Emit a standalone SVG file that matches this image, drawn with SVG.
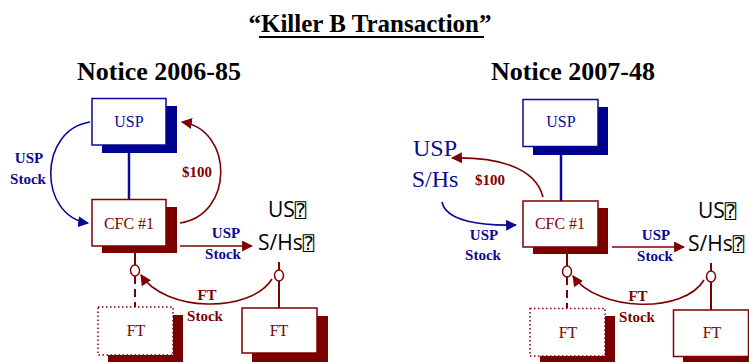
<svg xmlns="http://www.w3.org/2000/svg" width="749" height="362" viewBox="0 0 749 362">
<style>
.ttl{font-family:"Liberation Serif","Times New Roman",serif;font-weight:bold;fill:#000;}
.box{fill:#fff;stroke-width:1.5;}
.bb{stroke:#0a0a96;}
.rb{stroke:#7f0000;}
.dot{stroke-dasharray:1.5,2.5;}
.bsh{fill:#00008f;}
.rsh{fill:#7a0000;}
.lbl{font-family:"Liberation Serif","Times New Roman",serif;font-size:16px;text-anchor:middle;}
.bl{fill:#0a0a96;}
.rl{fill:#7f0000;}
.bold{font-family:"Liberation Serif","Times New Roman",serif;font-weight:bold;font-size:15px;text-anchor:middle;}
.sans{font-family:"Open Sans","Noto Sans",sans-serif;font-size:21px;fill:#000;}
.tofu{font-family:"DejaVu Sans Mono","DejaVu Sans",monospace;font-size:19px;fill:#000;}
.big{font-family:"Liberation Serif","Times New Roman",serif;font-size:24px;fill:#0a0a96;text-anchor:middle;}
.rline{fill:none;stroke:#7f0000;stroke-width:1.6;}
.bline{fill:none;stroke:#0a0a96;stroke-width:1.6;}
.circ{fill:#fff;stroke:#7f0000;stroke-width:1.5;}
</style>
<defs>
<marker id="ar2" viewBox="0 0 10 10" refX="9" refY="5" markerWidth="11" markerHeight="11" orient="auto" markerUnits="userSpaceOnUse"><path d="M0,0 L10,5 L0,10 z" fill="#7f0000"/></marker>
<marker id="ab2" viewBox="0 0 10 10" refX="9" refY="5" markerWidth="11" markerHeight="11" orient="auto" markerUnits="userSpaceOnUse"><path d="M0,0 L10,5 L0,10 z" fill="#0a0a96"/></marker>
</defs>

<g id="title">
<text class="ttl" x="370" y="32" font-size="25" text-anchor="middle">“Killer B Transaction”</text>
<line x1="259" y1="37" x2="484" y2="37" stroke="#000" stroke-width="2"/>
</g>
<g id="heading-left"><text class="ttl" x="159" y="80" font-size="26" text-anchor="middle">Notice 2006-85</text></g>
<g id="heading-right"><text class="ttl" x="573" y="80" font-size="26" text-anchor="middle">Notice 2007-48</text></g>

<g id="connectors">
<!-- left diagram -->
<line x1="129" y1="153" x2="129" y2="200" stroke="#0a0a96" stroke-width="2.5"/>
<path class="bline" d="M90,122 C38,130 38,216 88,223" marker-end="url(#ab2)"/>
<path class="rline" d="M180,223 C234,215 234,130 182,122" marker-end="url(#ar2)"/>
<line class="rline" x1="180" y1="246" x2="252" y2="246" marker-end="url(#ar2)"/>
<line x1="135" y1="253" x2="135" y2="265" stroke="#7f0000" stroke-width="2"/>
<line x1="135" y1="276" x2="135" y2="307" stroke="#7f0000" stroke-width="2" stroke-dasharray="8,5"/>
<line x1="279" y1="262" x2="279" y2="308" stroke="#7f0000" stroke-width="2"/>
<path class="rline" d="M272,279 C250,314 165,312 141,275" marker-end="url(#ar2)"/>
<ellipse class="circ" cx="135" cy="270.5" rx="4.5" ry="5.5"/>
<ellipse class="circ" cx="279" cy="275.5" rx="4.5" ry="5.5"/>
<!-- right diagram -->
<line x1="561" y1="155" x2="561" y2="201" stroke="#0a0a96" stroke-width="2.5"/>
<path class="rline" d="M543,197 C535,166 495,157 452,158" marker-end="url(#ar2)"/>
<path class="bline" d="M442,202 C446,221 480,226 516,225" marker-end="url(#ab2)"/>
<line class="rline" x1="612" y1="247" x2="684" y2="247" marker-end="url(#ar2)"/>
<line x1="567" y1="254" x2="567" y2="266" stroke="#7f0000" stroke-width="2"/>
<line x1="567" y1="277" x2="567" y2="308" stroke="#7f0000" stroke-width="2" stroke-dasharray="8,5"/>
<line x1="711" y1="263" x2="711" y2="310" stroke="#7f0000" stroke-width="2"/>
<path class="rline" d="M704,280 C684,314 598,312 573,276" marker-end="url(#ar2)"/>
<ellipse class="circ" cx="567" cy="271.5" rx="4.5" ry="5.5"/>
<ellipse class="circ" cx="711" cy="276.5" rx="4.5" ry="5.5"/>
</g>

<g id="labels">
<text class="bold bl" x="29" y="163">USP</text>
<text class="bold bl" x="28" y="184">Stock</text>
<text class="bold rl" x="197" y="177">$100</text>
<text class="bold bl" x="226" y="238">USP</text>
<text class="bold bl" x="223" y="259">Stock</text>
<text class="bold rl" x="207" y="300">FT</text>
<text class="bold rl" x="205" y="321">Stock</text>
<text class="sans" x="268" y="217">US<tspan class="tofu">⍰</tspan></text>
<text class="sans" x="258" y="250">S/Hs<tspan class="tofu">⍰</tspan></text>

<text class="big" x="435" y="156">USP</text>
<text class="big" x="435" y="187">S/Hs</text>
<text class="bold rl" x="490" y="185">$100</text>
<text class="bold bl" x="484" y="240">USP</text>
<text class="bold bl" x="483" y="260">Stock</text>
<text class="bold bl" x="656" y="240">USP</text>
<text class="bold bl" x="655" y="261">Stock</text>
<text class="bold rl" x="638" y="301">FT</text>
<text class="bold rl" x="637" y="322">Stock</text>
<text class="sans" x="698" y="218">US<tspan class="tofu">⍰</tspan></text>
<text class="sans" x="688" y="251">S/Hs<tspan class="tofu">⍰</tspan></text>
</g>

<g id="usp-left">
<rect class="bsh" x="102" y="106" width="75" height="47"/>
<rect class="box bb" x="92" y="98.5" width="74" height="46.5"/>
<text class="lbl bl" x="129" y="127">USP</text>
</g>
<g id="cfc-left">
<rect class="rsh" x="102" y="207" width="75" height="46"/>
<rect class="box rb" x="92" y="199.5" width="74" height="46.5"/>
<text class="lbl rl" x="129" y="229">CFC #1</text>
</g>
<g id="ft-left-dotted">
<rect class="rsh" x="108" y="315" width="75" height="48"/>
<rect class="box rb dot" x="98" y="307" width="75" height="48"/>
<text class="lbl rl" x="136" y="336">FT</text>
</g>
<g id="ft-left">
<rect class="rsh" x="252" y="316" width="76" height="48"/>
<rect class="box rb" x="242" y="308" width="75" height="45"/>
<text class="lbl rl" x="279" y="336">FT</text>
</g>

<g id="usp-right">
<rect class="bsh" x="533" y="107" width="75" height="48"/>
<rect class="box bb" x="523" y="99.5" width="75" height="47"/>
<text class="lbl bl" x="561" y="127">USP</text>
</g>
<g id="cfc-right">
<rect class="rsh" x="533" y="208" width="75" height="46"/>
<rect class="box rb" x="523" y="201" width="75" height="46"/>
<text class="lbl rl" x="560" y="229">CFC #1</text>
</g>
<g id="ft-right-dotted">
<rect class="rsh" x="540" y="316" width="75" height="48"/>
<rect class="box rb dot" x="530" y="308.5" width="75" height="47.5"/>
<text class="lbl rl" x="568" y="338">FT</text>
</g>
<g id="ft-right">
<rect class="rsh" x="683" y="318" width="76" height="48"/>
<rect class="box rb" x="673.5" y="310" width="75" height="46.5"/>
<text class="lbl rl" x="712" y="338">FT</text>
</g>
</svg>
